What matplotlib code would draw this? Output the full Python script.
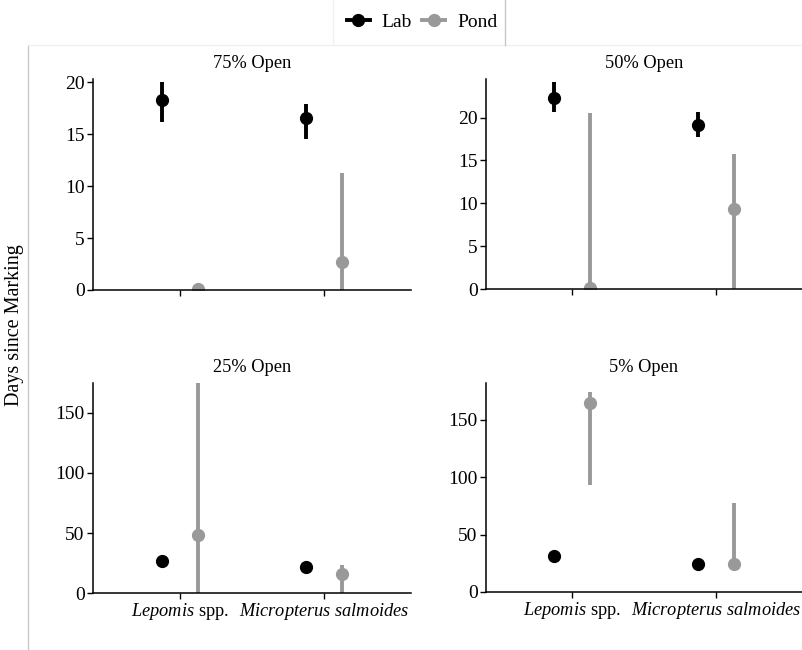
import matplotlib.pyplot as plt
from matplotlib.lines import Line2D
import numpy as np

plt.rcParams['font.family'] = ['Liberation Serif', 'DejaVu Serif']
plt.rcParams['mathtext.fontset'] = 'custom'
plt.rcParams['mathtext.it'] = 'Liberation Serif:italic'
plt.rcParams['mathtext.rm'] = 'Liberation Serif'

species = [r'$\mathit{Lepomis}$ spp.', r'$\mathit{Micropterus\ salmoides}$']
panels = ['75% Open', '50% Open', '25% Open', '5% Open']

# lab: mean, lower, upper (per species)
lab_mean = [[18.3, 16.5], [22.3, 19.1], [26.4, 21.7], [31.0, 24.6]]
lab_lo = [[16.2, 14.5], [20.6, 17.7], [25.5, 21.0], [30.0, 23.8]]
lab_hi = [[20.0, 17.9], [24.2, 20.6], [27.3, 22.4], [32.0, 25.4]]

# pond: mean, lower, upper
pond_mean = [[0.1, 2.7], [0.1, 9.35], [48.6, 16.1], [164.5, 24.6]]
pond_lo = [[0.0, 0.0], [0.0, 0.0], [0.0, 0.0], [93.4, 19.4]]
pond_hi = [[0.1, 11.3], [20.5, 15.8], [175.0, 23.6], [174.0, 77.5]]

y_top = [20.3, 24.5, 175, 182]
y_ticks = [[0, 5, 10, 15, 20], [0, 5, 10, 15, 20], [0, 50, 100, 150], [0, 50, 100, 150]]

lab_col = 'black'
pond_col = '#999999'

W, H = 803, 650
fig = plt.figure(figsize=(W / 100, H / 100), dpi=100)

# axes boxes in pixels: left, top, right, bottom
boxes = [(93, 79, 411, 290), (486, 79, 802, 289), (93, 383, 411, 593), (486, 383, 802, 592)]

x = np.arange(1, 3)
dodge = 0.125

for i, (l, t, r, b) in enumerate(boxes):
    ax = fig.add_axes([l / W, 1 - b / H, (r - l) / W, (b - t) / H])
    ax.vlines(x - dodge, lab_lo[i], lab_hi[i], color=lab_col, lw=2.8)
    ax.plot(x - dodge, lab_mean[i], 'o', color=lab_col, ms=8.5)
    ax.vlines(x + dodge, pond_lo[i], pond_hi[i], color=pond_col, lw=2.8)
    ax.plot(x + dodge, pond_mean[i], 'o', color=pond_col, ms=8.5)
    ax.set_xlim(0.4, 2.6)
    ax.set_ylim(0, y_top[i])
    ax.set_yticks(y_ticks[i])
    ax.set_xticks(x)
    if i >= 2:
        ax.set_xticklabels(species)
    else:
        ax.set_xticklabels([])
    for s in ['top', 'right']:
        ax.spines[s].set_visible(False)
    for s in ['left', 'bottom']:
        ax.spines[s].set_linewidth(1.1)
    ax.tick_params(length=4, width=1, labelsize=14, pad=2, colors='black')
    ax.tick_params(axis='x', labelsize=13.2)
    ax.set_title(panels[i], fontsize=13.2, pad=8)

fig.text(15 / W, 0.5, 'Days since Marking', rotation=90, ha='center', va='center', fontsize=14.5)

handles = [Line2D([], [], color=lab_col, marker='o', ms=8.5, lw=2.8),
           Line2D([], [], color=pond_col, marker='o', ms=8.5, lw=2.8)]
fig.legend(handles, ['Lab', 'Pond'], loc='center', bbox_to_anchor=(422 / W, 1 - 22 / H),
           ncol=2, frameon=False, fontsize=14, handlelength=1.2, columnspacing=0.5,
           handletextpad=0.6)

# faint panel borders from the original composite
fig.add_artist(Line2D([28 / W, 28 / W], [1 - 45 / H, 0], color='#c8c8c8', lw=1))
fig.add_artist(Line2D([28 / W, 1], [1 - 45 / H, 1 - 45 / H], color='#f0f0f0', lw=1))
fig.add_artist(Line2D([333 / W, 333 / W], [1, 1 - 45 / H], color='#f0f0f0', lw=1))
fig.add_artist(Line2D([505 / W, 505 / W], [1, 1 - 45 / H], color='#c8c8c8', lw=1))

fig.savefig('out.png', dpi=100)
